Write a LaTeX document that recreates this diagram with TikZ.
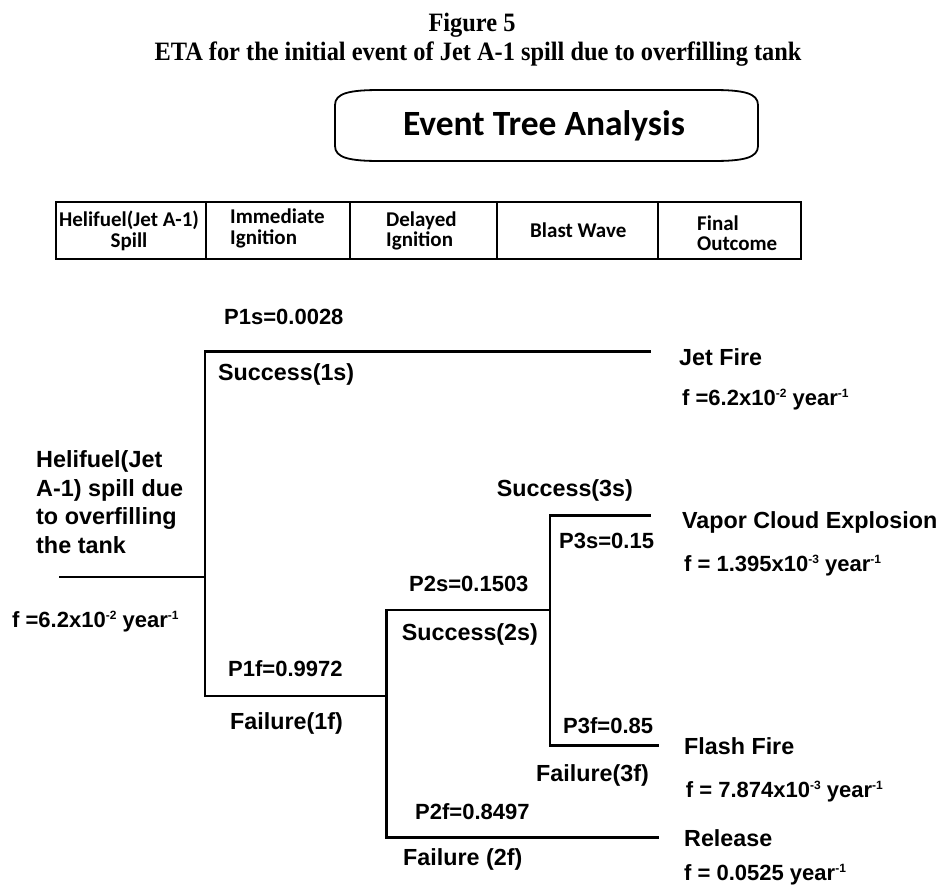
\documentclass[tikz,border=0pt]{standalone}
\usepackage{fontspec}
\setmainfont{Liberation Sans}
\newfontfamily\serifT[FakeStretch=0.92]{Liberation Serif}
\newfontfamily\calF{Carlito}
\newcommand\fs[2]{\fontsize{#1}{#2}\selectfont}
\newcommand\sps[1]{\raisebox{8pt}{\fs{12}{12}#1}}
\newcommand\stk[2][l]{\begin{tabular}[t]{@{}#1@{}}#2\end{tabular}}
\tikzset{
  branch/.style={line width=2.6pt, line cap=rect},
  tbl/.style={line width=2pt},
  lab/.style={inner sep=0pt, anchor=base west, font=\bfseries\fs{22}{26}},
  sflab/.style={inner sep=0pt, anchor=base west, font=\bfseries\fs{23.3}{28}},
  hdr/.style={inner sep=0pt, anchor=base west, font=\calF\bfseries\fs{21}{20}},
  ttl/.style={inner sep=0pt, anchor=base, font=\serifT\bfseries\fs{26.5}{30}}
}
\begin{document}
\begin{tikzpicture}[x=1pt,y=-1pt]
\useasboundingbox (0,0) rectangle (937,884);
% title
\node[ttl] (fig) at (472,31.7) {Figure 5};
\node[ttl] (cap) at (478,60.7) {ETA for the initial event of Jet A-1 spill due to overfilling tank};
% Event Tree Analysis box
\draw[line width=1.8pt] (335,105) .. controls (335,93) and (350,90) .. (380,90) -- (713,90)
  .. controls (743,90) and (758,93) .. (758,105) -- (758,146)
  .. controls (758,158) and (743,161) .. (713,161) -- (380,161)
  .. controls (350,161) and (335,158) .. (335,146) -- cycle;
\node[inner sep=0pt, anchor=base, font=\calF\bfseries\fs{35.5}{40}] (eta) at (544,135) {Event Tree Analysis};
% header table
\draw[tbl] (55.7,201.7) rectangle (801,259);
\foreach \cx in {206,350,497,658} \draw[tbl] (\cx,201.7) -- (\cx,259);
\node[hdr, anchor=base] (h1) at (129,226.7) {\stk[c]{Helifuel(Jet A-1)\\Spill}};
\node[hdr] (h2) at (230,223.3) {\stk{Immediate\\Ignition}};
\node[hdr] (h3) at (386,226) {\stk{Delayed\\Ignition}};
\node[hdr] (h4) at (530,237) {Blast Wave};
\node[hdr] (h5) at (697,230) {\stk{Final\\Outcome}};
% tree coordinates
\coordinate (s0) at (60,577);
\coordinate (b1) at (205,577);
\coordinate (b1t) at (205,351.7);
\coordinate (b1b) at (205,696);
\coordinate (jf) at (650,351.7);
\coordinate (b2) at (386.7,696);
\coordinate (b2t) at (386.7,610);
\coordinate (b2b) at (386.7,837.3);
\coordinate (b3) at (550,610);
\coordinate (b3t) at (550,515.7);
\coordinate (b3b) at (550,745.7);
\coordinate (vce) at (650,515.7);
\coordinate (ff) at (658,745.7);
\coordinate (rel) at (658,837.3);
\draw[branch] (s0) -- (b1);
\draw[branch] (b1t) -- (b1b);
\draw[branch] (b1t) -- (jf);
\draw[branch] (b1b) -- (b2);
\draw[branch] (b2t) -- (b2b);
\draw[branch] (b2t) -- (b3);
\draw[branch] (b3t) -- (b3b);
\draw[branch] (b3t) -- (vce);
\draw[branch] (b3b) -- (ff);
\draw[branch] (b2b) -- (rel);
% left labels
\node[inner sep=0pt, anchor=base west, font=\bfseries\fs{23.4}{28.7}] (init) at (36,467.3)
  {\stk{Helifuel(Jet\\A-1) spill due\\to overfilling\\the tank}};
\node[lab] (f0) at (12,627.7) {f =6.2x10\sps{-2} year\sps{-1}};
% branch labels
\node[lab] (p1s) at (224,324) {P1s=0.0028};
\node[sflab] (s1) at (218,380) {Success(1s)};
\node[lab] (p1f) at (228,676.7) {P1f=0.9972};
\node[sflab] (f1) at (230,729) {Failure(1f)};
\node[lab] (p2s) at (409,591.7) {P2s=0.1503};
\node[sflab] (s2) at (401.7,640) {Success(2s)};
\node[lab] (p2f) at (415,819) {P2f=0.8497};
\node[sflab] (f2) at (403,865) {Failure (2f)};
\node[sflab] (s3) at (496.7,496.7) {Success(3s)};
\node[lab] (p3s) at (559,548.3) {P3s=0.15};
\node[lab] (p3f) at (563,733) {P3f=0.85};
\node[sflab] (f3) at (536,781.7) {Failure(3f)};
% outcomes
\node[sflab] (o1) at (679,365) {Jet Fire};
\node[lab] (q1) at (682,405) {f =6.2x10\sps{-2} year\sps{-1}};
\node[sflab] (o2) at (682,528.3) {Vapor Cloud Explosion};
\node[lab] (q2) at (684,571) {f = 1.395x10\sps{-3} year\sps{-1}};
\node[sflab] (o3) at (684,754.3) {Flash Fire};
\node[lab] (q3) at (685.7,797) {f = 7.874x10\sps{-3} year\sps{-1}};
\node[sflab] (o4) at (684,846.7) {Release};
\node[lab] (q4) at (684,880) {f = 0.0525 year\sps{-1}};
\end{tikzpicture}
\end{document}
